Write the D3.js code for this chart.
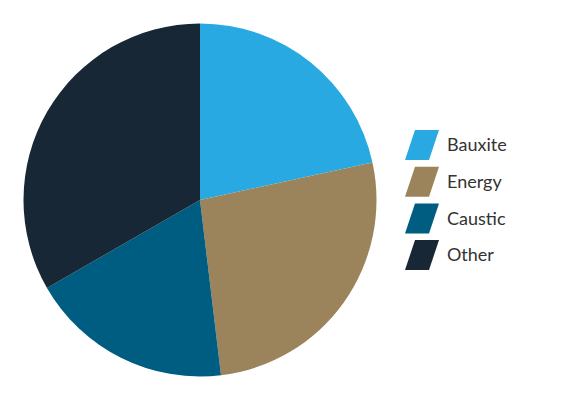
<!DOCTYPE html>
<html><head><meta charset="utf-8">
<script src="https://cdn.jsdelivr.net/npm/d3@7"></script>
<style>body{margin:0;background:#fff}svg{display:block}</style>
</head><body>
<script>
const categories = ["Bauxite", "Energy", "Caustic", "Other"];
const values = [21.6, 26.5, 18.6, 33.3];
const colors = ["#29a9e1", "#9b845c", "#005d82", "#172735"];

const W = 565, H = 400;
const svg = d3.select("body").append("svg").attr("width", W).attr("height", H);
const cx = 200, cy = 200, r = 176.5;
const pie = d3.pie().sort(null).value(d => d.v);
const arcs = pie(categories.map((c, i) => ({c, v: values[i], col: colors[i]})));
const arc = d3.arc().innerRadius(0).outerRadius(r);
svg.append("g").attr("transform", `translate(${cx},${cy})`)
  .selectAll("path").data(arcs).join("path")
  .attr("d", arc).attr("fill", d => d.data.col);

const lg = svg.append("g");
const y0 = 130, step = 36.7;
categories.forEach((c, i) => {
  const y = y0 + i * step;
  lg.append("path")
    .attr("d", `M415,${y}L439,${y}L429,${y+30}L405,${y+30}Z`)
    .attr("fill", colors[i]);
  lg.append("text").attr("x", 447).attr("y", y + 15).attr("dy", "0.35em")
    .attr("font-family", "Lato, sans-serif").attr("font-size", 18)
    .attr("fill", "#333").text(c);
});
</script>
</body></html>
